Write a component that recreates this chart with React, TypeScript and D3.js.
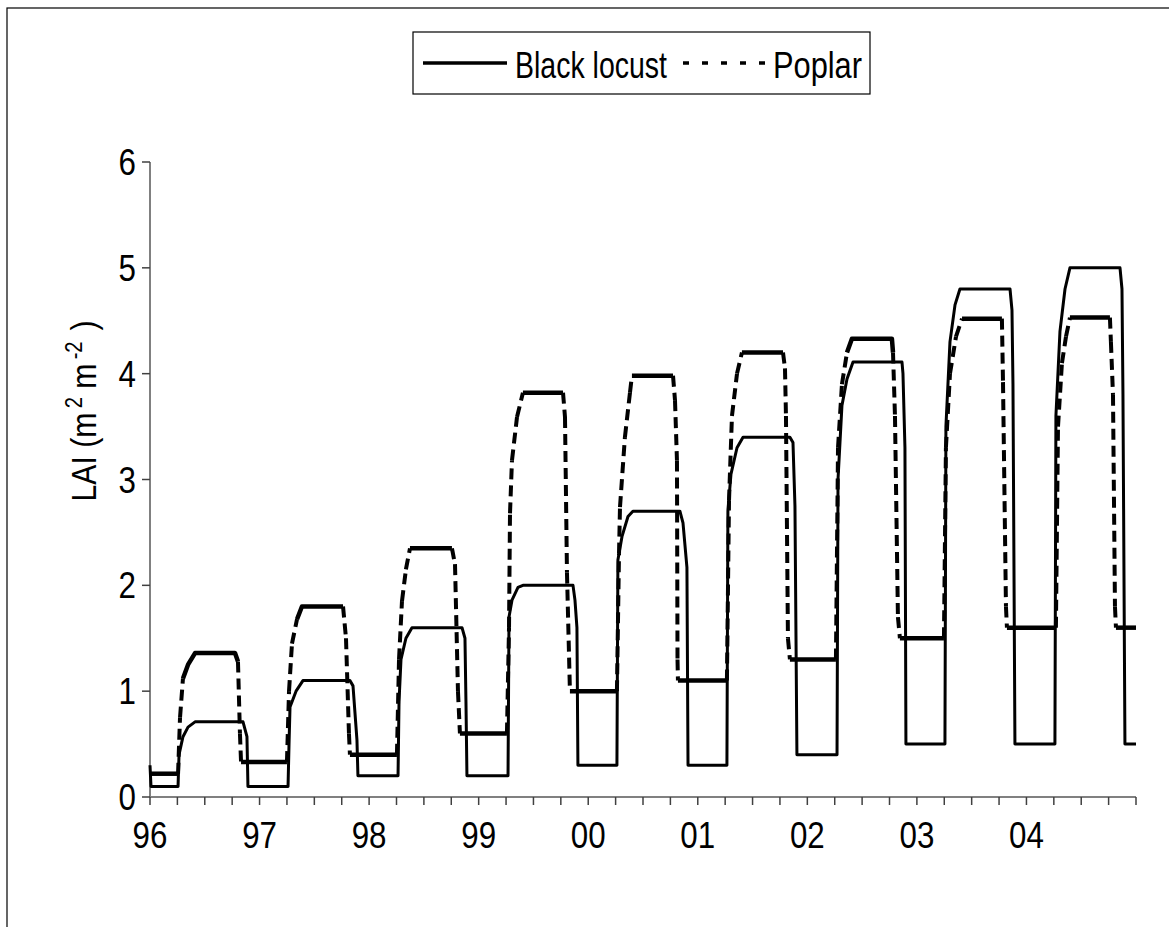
import React from 'react';
import * as d3 from 'd3';

// ---- data (time in decimal years, LAI in m2 m-2) ----
const yearTicks = [1996, 1997, 1998, 1999, 2000, 2001, 2002, 2003, 2004];
const yearLabels = ['96', '97', '98', '99', '00', '01', '02', '03', '04'];
const yTicks = [0, 1, 2, 3, 4, 5, 6];
const seriesNames = ['Black locust', 'Poplar'];

const blackLocust: [number, number][] = [
  [1996.0, 0.3], [1996.009, 0.1], [1996.256, 0.1], [1996.265, 0.4], [1996.301, 0.57], [1996.347, 0.66], [1996.411, 0.71],
  [1996.849, 0.71], [1996.885, 0.57], [1996.894, 0.1],
  [1997.26, 0.1], [1997.269, 0.5], [1997.278, 0.85], [1997.333, 1.0], [1997.396, 1.1],
  [1997.825, 1.1], [1997.853, 1.05], [1997.889, 0.54], [1997.898, 0.2],
  [1998.264, 0.2], [1998.273, 0.9], [1998.291, 1.3], [1998.336, 1.5], [1998.391, 1.6],
  [1998.848, 1.6], [1998.875, 1.5], [1998.884, 0.9], [1998.893, 0.2],
  [1999.268, 0.2], [1999.277, 1.7], [1999.304, 1.86], [1999.359, 1.98], [1999.404, 2.0],
  [1999.861, 2.0], [1999.879, 1.86], [1999.897, 1.6], [1999.906, 0.3],
  [2000.262, 0.3], [2000.271, 2.24], [2000.308, 2.46], [2000.363, 2.65], [2000.408, 2.7],
  [2000.837, 2.7], [2000.865, 2.59], [2000.901, 2.17], [2000.911, 0.3],
  [2001.266, 0.3], [2001.275, 2.7], [2001.303, 3.05], [2001.358, 3.3], [2001.413, 3.4],
  [2001.841, 3.4], [2001.869, 3.35], [2001.887, 2.75], [2001.905, 0.4],
  [2002.271, 0.4], [2002.28, 3.0], [2002.316, 3.7], [2002.362, 3.95], [2002.417, 4.11],
  [2002.864, 4.11], [2002.873, 4.0], [2002.891, 3.3], [2002.9, 0.5],
  [2003.256, 0.5], [2003.265, 3.5], [2003.302, 4.3], [2003.348, 4.65], [2003.393, 4.8],
  [2003.85, 4.8], [2003.868, 4.6], [2003.877, 3.9], [2003.895, 0.5],
  [2004.26, 0.5], [2004.269, 3.6], [2004.306, 4.4], [2004.352, 4.8], [2004.397, 5.0],
  [2004.854, 5.0], [2004.872, 4.8], [2004.881, 3.8], [2004.899, 0.5], [2005.0, 0.5],
];

const poplar: [number, number][] = [
  [1996.0, 0.22], [1996.256, 0.22], [1996.274, 0.75], [1996.301, 1.12], [1996.347, 1.25], [1996.411, 1.36],
  [1996.776, 1.36], [1996.803, 1.28], [1996.821, 0.6], [1996.831, 0.33],
  [1997.25, 0.33], [1997.269, 1.0], [1997.296, 1.45], [1997.342, 1.68], [1997.387, 1.8],
  [1997.762, 1.8], [1997.789, 1.5], [1997.816, 0.6], [1997.825, 0.4],
  [1998.254, 0.4], [1998.273, 1.3], [1998.3, 1.85], [1998.336, 2.15], [1998.373, 2.35],
  [1998.756, 2.35], [1998.784, 2.2], [1998.811, 1.0], [1998.829, 0.6],
  [1999.258, 0.6], [1999.277, 1.6], [1999.286, 2.68], [1999.304, 3.18], [1999.35, 3.59], [1999.404, 3.82],
  [1999.77, 3.82], [1999.788, 3.59], [1999.806, 2.12], [1999.833, 1.0],
  [2000.262, 1.0], [2000.281, 2.3], [2000.29, 2.74], [2000.335, 3.4], [2000.381, 3.82], [2000.399, 3.98],
  [2000.774, 3.98], [2000.792, 3.75], [2000.81, 3.18], [2000.815, 1.3], [2000.819, 1.1],
  [2001.266, 1.1], [2001.285, 2.8], [2001.312, 3.6], [2001.358, 4.0], [2001.403, 4.2],
  [2001.778, 4.2], [2001.796, 4.05], [2001.805, 3.6], [2001.823, 1.5], [2001.841, 1.3],
  [2002.252, 1.3], [2002.261, 1.3], [2002.28, 3.3], [2002.316, 3.9], [2002.362, 4.2], [2002.407, 4.33],
  [2002.772, 4.33], [2002.782, 4.2], [2002.8, 3.6], [2002.827, 1.7], [2002.845, 1.5],
  [2003.238, 1.5], [2003.247, 1.5], [2003.265, 3.3], [2003.302, 4.0], [2003.357, 4.35], [2003.412, 4.52],
  [2003.776, 4.52], [2003.786, 3.92], [2003.813, 1.8], [2003.822, 1.6],
  [2004.26, 1.6], [2004.269, 1.6], [2004.288, 3.5], [2004.324, 4.1], [2004.361, 4.35], [2004.397, 4.53],
  [2004.762, 4.53], [2004.771, 4.3], [2004.79, 3.8], [2004.808, 1.8], [2004.817, 1.6], [2005.0, 1.6],
];

const FONT = "'Liberation Sans', Arial, sans-serif";

export default function App() {
  const x = d3.scaleLinear().domain([1996, 2005]).range([150, 1136]);
  const y = d3.scaleLinear().domain([0, 6]).range([797, 162]);
  const line = d3.line<[number, number]>().x(d => x(d[0])).y(d => y(d[1]));

  // poplar: steep segments dashed, flat runs solid (mimics per-segment dash restart)
  const solidRuns: [number, number][][] = [];
  const dashedSegs: [number, number][][] = [];
  let run: [number, number][] = [];
  for (let i = 0; i < poplar.length - 1; i++) {
    const a = poplar[i], b = poplar[i + 1];
    const dx = Math.abs(x(b[0]) - x(a[0]));
    const dy = Math.abs(y(b[1]) - y(a[1]));
    if (dy > dx * 1.5 && dy > 14) {
      if (run.length) { solidRuns.push(run); run = []; }
      dashedSegs.push([a, b]);
    } else {
      if (!run.length) run.push(a);
      run.push(b);
    }
  }
  if (run.length) solidRuns.push(run);

  const quarterTicks = d3.range(0, 37).map(i => 1996 + i * 0.25);

  return (
    <svg width={1169} height={927} style={{ position: 'absolute', left: 0, top: 0, background: '#fff' }}
      fontFamily={FONT}>
      <rect x={0} y={0} width={1169} height={927} fill="#fff" />
      {/* outer chart frame */}
      <rect x={7} y={8} width={1300} height={1000} fill="none" stroke="#000" strokeWidth={1.2} />

      {/* legend */}
      <rect x={413} y={32} width={457} height={62} fill="#fff" stroke="#000" strokeWidth={1.2} />
      <line x1={423} x2={507} y1={63} y2={63} stroke="#000" strokeWidth={3.5} />
      <text x={515} y={78} fontSize={36} textLength={152} lengthAdjust="spacingAndGlyphs">{seriesNames[0]}</text>
      <line x1={683} x2={768} y1={63} y2={63} stroke="#000" strokeWidth={3.5} strokeDasharray="6,13" />
      <text x={773} y={78} fontSize={36} textLength={89} lengthAdjust="spacingAndGlyphs">{seriesNames[1]}</text>

      {/* y axis */}
      <line x1={150} x2={150} y1={y(6)} y2={y(0)} stroke="#808080" strokeWidth={2} />
      {yTicks.map(t => (
        <g key={'yt' + t}>
          <line x1={142} x2={150} y1={y(t)} y2={y(t)} stroke="#404040" strokeWidth={1.5} />
          <g transform={`translate(136,${y(t) + 13})`}>
            <text textAnchor="end" fontSize={36} transform="scale(0.87,1)">{t}</text>
          </g>
        </g>
      ))}

      {/* x axis */}
      <line x1={150} x2={1136} y1={797} y2={797} stroke="#808080" strokeWidth={2} />
      {quarterTicks.map((t, i) => (
        <line key={'xt' + i} x1={x(t)} x2={x(t)} y1={797} y2={805} stroke="#404040" strokeWidth={1.5} />
      ))}
      {yearTicks.map((t, i) => (
        <g key={'xl' + t} transform={`translate(${x(t)},848)`}>
          <text textAnchor="middle" fontSize={36} transform="scale(0.87,1)">{yearLabels[i]}</text>
        </g>
      ))}

      {/* y axis title */}
      <g transform="translate(96,411) rotate(-90) scale(0.84,1)">
        <text textAnchor="middle" fontSize={36}>
          LAI (m<tspan fontSize={24} dx={5} dy={-14}>2</tspan><tspan dy={14}> m</tspan><tspan fontSize={24} dx={5} dy={-14}>-2</tspan><tspan dx={3} dy={14}> )</tspan>
        </text>
      </g>

      {/* series */}
      <path d={line(blackLocust) || ''} fill="none" stroke="#000" strokeWidth={3} strokeLinejoin="round" />
      {solidRuns.map((r, i) => (
        <path key={'ps' + i} d={line(r) || ''} fill="none" stroke="#000" strokeWidth={4.5} strokeLinejoin="round" />
      ))}
      {dashedSegs.map((s, i) => (
        <path key={'pd' + i} d={line(s) || ''} fill="none" stroke="#000" strokeWidth={4} strokeDasharray="11,6" />
      ))}
    </svg>
  );
}
